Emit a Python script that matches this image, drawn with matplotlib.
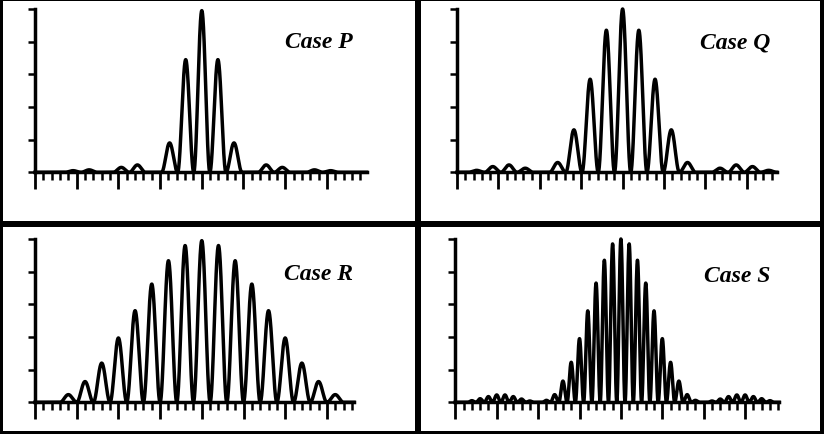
import numpy as np
import matplotlib
matplotlib.use("Agg")
import matplotlib.pyplot as plt
from matplotlib.patches import Rectangle
from matplotlib.ticker import FixedLocator

# fringe orders and peak heights (centre order = 0)
orders_p = [-8, -7, -5, -4, -2, -1, 0, 1, 2, 4, 5, 7, 8]
heights_p = [0.01, 0.015, 0.03, 0.045, 0.18, 0.69, 0.99, 0.69, 0.18, 0.045, 0.03, 0.015, 0.01]

orders_q = [-9, -8, -7, -6, -4, -3, -2, -1, 0, 1, 2, 3, 4, 6, 7, 8, 9]
heights_q = [0.012, 0.035, 0.045, 0.025, 0.06, 0.26, 0.57, 0.87, 1.0,
             0.87, 0.57, 0.26, 0.06, 0.025, 0.045, 0.035, 0.012]

orders_r = [-8, -7, -6, -5, -4, -3, -2, -1, 0, 1, 2, 3, 4, 5, 6, 7, 8]
heights_r = [0.047, 0.127, 0.24, 0.394, 0.561, 0.724, 0.867, 0.96, 0.99,
             0.96, 0.867, 0.724, 0.561, 0.394, 0.24, 0.127, 0.047]

orders_s = [-18, -17, -16, -15, -14, -13, -12, -11, -9, -8, -7, -6, -5, -4, -3, -2, -1, 0,
            1, 2, 3, 4, 5, 6, 7, 8, 9, 11, 12, 13, 14, 15, 16, 17, 18]
heights_s = [0.01, 0.022, 0.035, 0.045, 0.045, 0.035, 0.02, 0.008, 0.012, 0.047, 0.13, 0.245,
             0.39, 0.56, 0.73, 0.87, 0.97, 1.0, 0.97, 0.87, 0.73, 0.56, 0.39, 0.245, 0.13,
             0.047, 0.012, 0.008, 0.02, 0.035, 0.045, 0.045, 0.035, 0.022, 0.01]

labels = ['Case P', 'Case Q', 'Case R', 'Case S']

W, H = 824, 435
fig = plt.figure(figsize=(W / 100, H / 100), dpi=100)
fig.patch.set_facecolor('white')


def px_axes(left, top, width, height):
    # pixel box (top-left origin) -> figure fraction
    return fig.add_axes([left / W, (H - top - height) / H, width / W, height / H])


def fringe_curve(x, spacing, orders, heights):
    lookup = dict(zip(orders, heights))
    u = x / spacing
    k = np.round(u).astype(int)
    amp = np.array([lookup.get(kk, 0.0) for kk in k])
    return amp * np.cos(np.pi * (u - k)) ** 2


# (left px, top px, major px, xmax, fringe spacing, orders, heights, label, label centre)
panels = [
    (35, 10, 41.7, 3.95, 0.386, orders_p, heights_p, labels[0], (319, 43)),
    (457, 10, 41.4, 3.72, 0.392, orders_q, heights_q, labels[1], (735, 43)),
    (35, 240, 41.7, 3.65, 0.4, orders_r, heights_r, labels[2], (319, 275)),
    (455.3, 240, 41.4, 3.82, 0.2, orders_s, heights_s, labels[3], (737, 277)),
]

for left, top, major, xmax, spacing, orders, heights, label, (tx, ty) in panels:
    ax = px_axes(left, top, (xmax + 4) * major, 163.3)
    ax.set_xlim(-4, xmax)
    ax.set_ylim(0, 1)
    x = np.linspace(-4, xmax, 3000)
    ax.plot(x, fringe_curve(x, spacing, orders, heights), color='black', lw=2.5,
            clip_on=False, solid_joinstyle='round')

    for s in ['top', 'right']:
        ax.spines[s].set_visible(False)
    for s in ['left', 'bottom']:
        ax.spines[s].set_linewidth(2.5)
    ax.set_facecolor('none')

    majors = np.arange(-4, np.floor(xmax) + 1)
    minors = [m for m in np.arange(-4, xmax + 0.001, 0.2) if abs(m - round(m)) > 0.01]
    ax.xaxis.set_major_locator(FixedLocator(majors))
    ax.xaxis.set_minor_locator(FixedLocator(minors))
    ax.yaxis.set_major_locator(FixedLocator([0, 0.2, 0.4, 0.6, 0.8, 1.0]))
    ax.tick_params(axis='x', which='major', direction='out', length=12, width=2.0, labelbottom=False)
    ax.tick_params(axis='x', which='minor', direction='out', length=5.5, width=1.8)
    ax.tick_params(axis='y', which='major', direction='out', length=5, width=1.8, labelleft=False)

    fig.text(tx / W, 1 - ty / H, label, ha='center', va='center', fontsize=17,
             family='Liberation Serif', weight='bold', style='italic')

# frame and dividers
bg = fig.add_axes([0, 0, 1, 1], zorder=10)
bg.set_xlim(0, W)
bg.set_ylim(H, 0)
bg.axis('off')
bg.patch.set_alpha(0)
for x0, y0, w, h in [(0, 0, 3, H), (0, 0, W, 2), (W - 4, 0, 4, H), (0, H - 3, W, 3),
                     (415.5, 0, 5.5, H), (0, 222, W, 5.5)]:
    bg.add_patch(Rectangle((x0, y0), w, h, color='black', lw=0))

fig.savefig('out.png', dpi=100)
